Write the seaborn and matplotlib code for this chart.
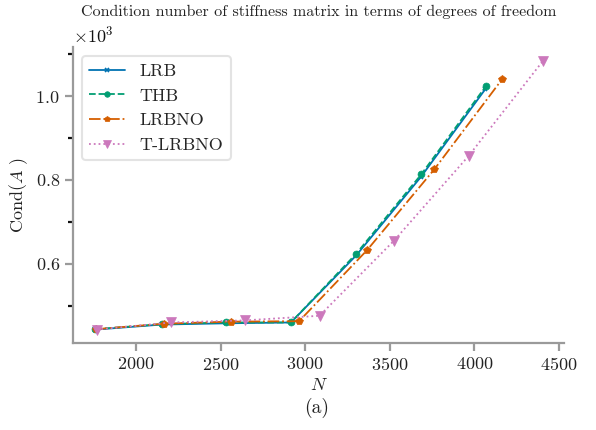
import matplotlib
matplotlib.use("Agg")
import matplotlib.pyplot as plt
from matplotlib.ticker import MultipleLocator, ScalarFormatter
import seaborn as sns

# Degrees of freedom N and condition numbers for each method
n_lrb = [1760, 2152, 2531, 2916, 3302, 3686, 4066]
cond_lrb = [443, 455, 458, 460, 620, 808, 1017]

n_thb = [1760, 2152, 2531, 2916, 3302, 3686, 4069]
cond_thb = [444, 456, 460, 460, 624, 813, 1024]

n_lrbno = [1762, 2166, 2562, 2964, 3365, 3763, 4164]
cond_lrbno = [444, 457, 462, 463, 632, 825, 1040]

n_tlrbno = [1767, 2207, 2645, 3085, 3525, 3966, 4404]
cond_tlrbno = [443, 460, 465, 476, 655, 857, 1083]

labels = ["LRB", "THB", "LRBNO", "T-LRBNO"]

sns.set_theme(style="ticks")
plt.rcParams["font.family"] = ["cmr10"]
plt.rcParams["mathtext.fontset"] = "cm"
plt.rcParams["axes.unicode_minus"] = False
plt.rcParams["axes.formatter.use_mathtext"] = True

pal = sns.color_palette("colorblind")
colors = [pal[0], pal[2], pal[3], pal[4]]

fig = plt.figure(figsize=(5.96, 4.30), dpi=100)
ax = fig.add_axes([0.1225, 0.2023, 0.8238, 0.6884])

series = [
    (n_lrb, cond_lrb, "-", "x", 3.5),
    (n_thb, cond_thb, "--", "o", 5),
    (n_lrbno, cond_lrbno, "-.", "p", 5.5),
    (n_tlrbno, cond_tlrbno, ":", "v", 6.5),
]
for (xs, ys, ls, mk, ms), lab, col in zip(series, labels, colors):
    sns.lineplot(x=xs, y=ys, ax=ax, color=col, linestyle=ls, marker=mk,
                 markersize=ms, markeredgecolor=col,
                 markeredgewidth=1.2 if mk == "x" else 0.5,
                 linewidth=1.3, label=lab)

ax.set_xlim(1628, 4530)
ax.set_ylim(411, 1117)
ax.xaxis.set_major_locator(MultipleLocator(500))
ax.yaxis.set_major_locator(MultipleLocator(200))
ax.yaxis.set_minor_locator(MultipleLocator(100))

fmt = ScalarFormatter(useMathText=True)
fmt.set_powerlimits((3, 3))
ax.yaxis.set_major_formatter(fmt)

for side in ["left", "bottom"]:
    ax.spines[side].set_color("#9a9a9a")
    ax.spines[side].set_linewidth(1.6)
sns.despine(ax=ax)
ax.tick_params(axis="both", which="major", colors="#9a9a9a", labelcolor="#222222",
               labelsize=13, length=6, width=1.6)
ax.tick_params(axis="y", which="minor", colors="#111111", length=3.5, width=1.6)

ax.set_xlabel("$N$", fontsize=13, color="#222222", labelpad=3)
ax.set_ylabel("Cond($A$ )", fontsize=13, color="#222222")
ax.set_title("Condition number of stiffness matrix in terms of degrees of freedom",
             fontsize=11.5, pad=22, color="#222222")
off = ax.yaxis.get_offset_text()
off.set_fontsize(13)
off.set_horizontalalignment("left")
off.set_x(0.0)

leg = ax.legend(loc="upper left", fontsize=13, frameon=True, fancybox=True,
                handlelength=2.0, borderaxespad=0.5, labelspacing=0.5,
                markerscale=0.8)
leg.get_frame().set_edgecolor("#dddddd")
leg.get_frame().set_linewidth(1.5)

fig.text(0.532, 0.028, "(a)", ha="center", va="bottom", fontsize=14, color="#222222")

fig.savefig("out.png", dpi=100)
